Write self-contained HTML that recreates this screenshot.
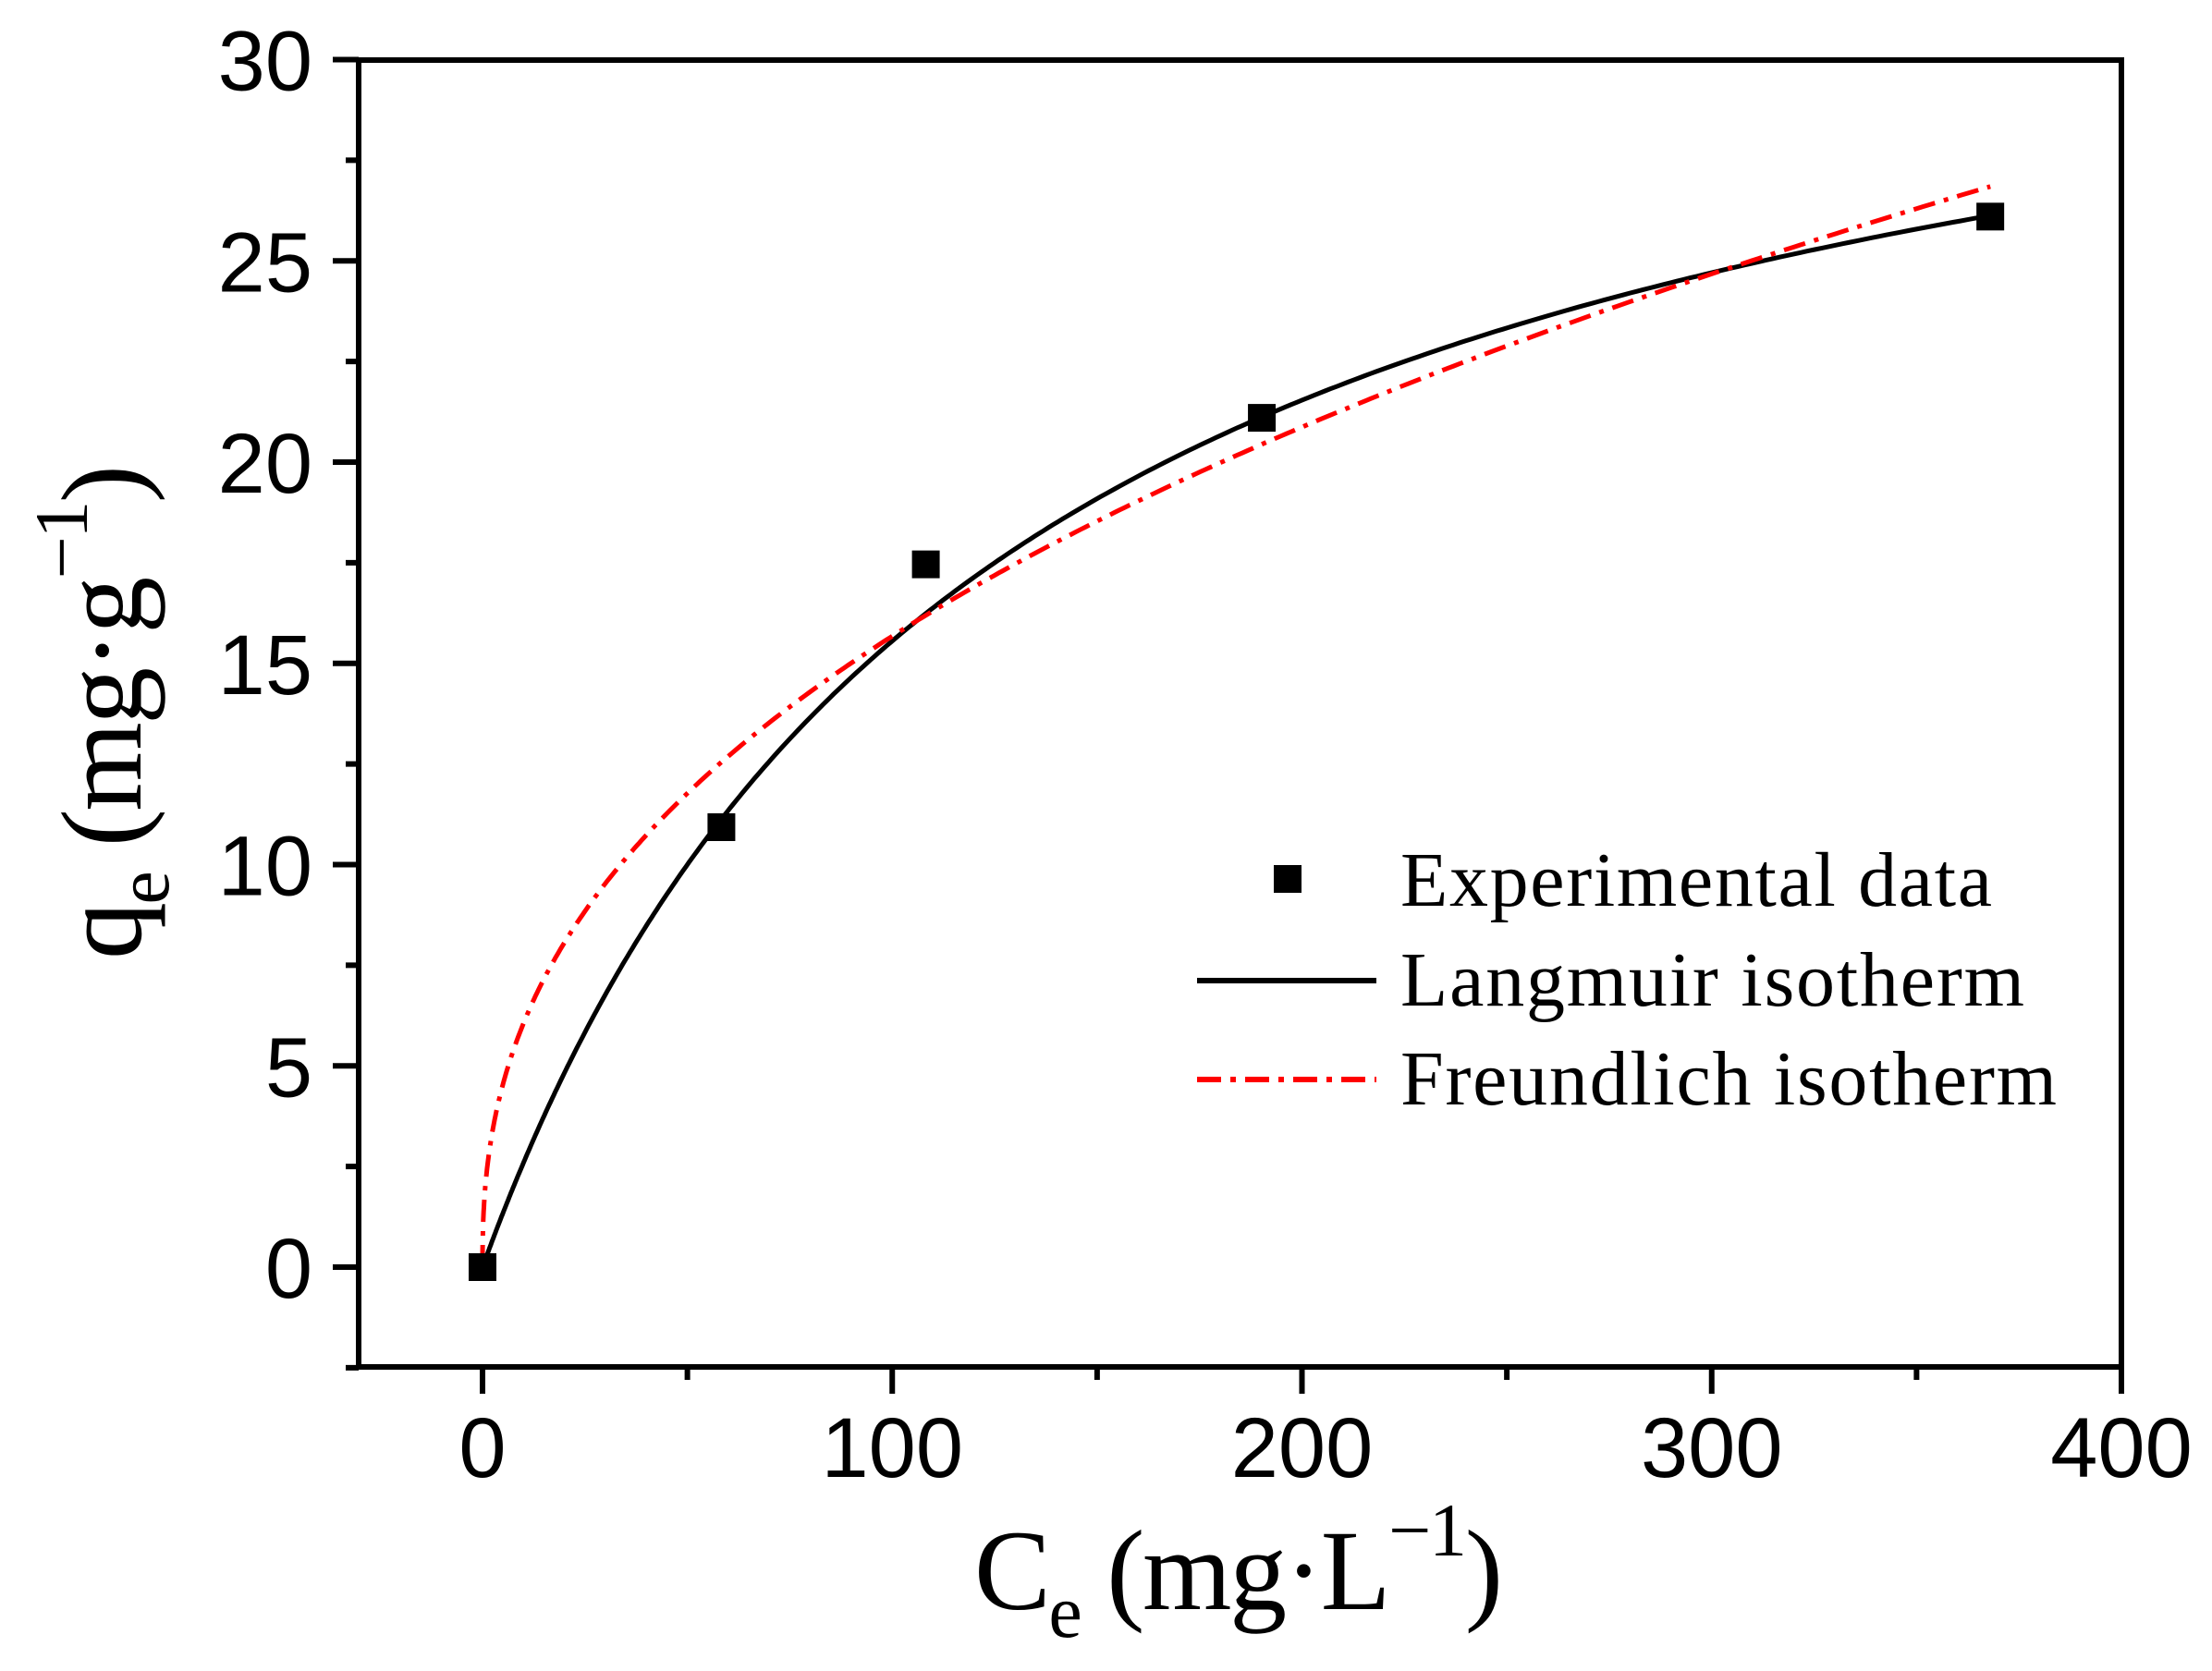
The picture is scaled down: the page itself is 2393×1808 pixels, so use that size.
<!DOCTYPE html>
<html><head><meta charset="utf-8"><style>html,body{margin:0;padding:0;background:#fff}svg{display:block}</style></head>
<body>
<svg id="s" width="2393" height="1808" xmlns="http://www.w3.org/2000/svg">
<rect width="2393" height="1808" fill="#fff"/>
<g id="curves"></g>
<g id="ax" stroke="#000" stroke-width="6" fill="none"></g>
<g id="lab" font-family="Liberation Sans, sans-serif" font-size="92" fill="#000"></g>
<g font-family="Liberation Serif, serif" fill="#000">
<text x="1054" y="1741" font-size="124" textLength="572">C<tspan font-size="82" dy="30">e</tspan><tspan dy="-30"> (mg·L</tspan><tspan font-size="82" dy="-58">−1</tspan><tspan dy="58">)</tspan></text>
<text transform="translate(152,1038) rotate(-90)" font-size="124" textLength="535">q<tspan font-size="82" dy="30">e</tspan><tspan dy="-30"> (mg·g</tspan><tspan font-size="82" dy="-58">−1</tspan><tspan dy="58">)</tspan></text>
<rect x="1378" y="936" width="30" height="30" fill="#000"/>
<line x1="1295" y1="1061" x2="1489" y2="1061" stroke="#000" stroke-width="6"/>
<line x1="1295" y1="1168" x2="1489" y2="1168" stroke="#f00" stroke-width="6" stroke-dasharray="26,10,6,10"/>
<text x="1515" y="980" font-size="84" textLength="640">Experimental data</text>
<text x="1515" y="1088" font-size="84" textLength="675">Langmuir isotherm</text>
<text x="1515" y="1195" font-size="84" textLength="710">Freundlich isotherm</text>
</g>
</svg>
<script>
var X=function(v){return 522+v*4.4325},Y=function(v){return 1371-v*43.55};
var NS="http://www.w3.org/2000/svg";
function el(p,t,a){var e=document.createElementNS(NS,t);for(var k in a)e.setAttribute(k,a[k]);p.appendChild(e);return e;}
var ax=document.getElementById('ax'),lab=document.getElementById('lab'),cv=document.getElementById('curves');
el(ax,'rect',{x:388,y:65,width:1907,height:1414});
for(var v=-2.5;v<=30.01;v+=2.5){var y=Y(v),maj=Math.abs(v%5)<0.01;el(ax,'line',{x1:388,y1:y,x2:maj?360:374,y2:y});
 if(maj){var t=el(lab,'text',{x:338,y:y+33,'text-anchor':'end'});t.textContent=Math.round(v);}}
for(var v=0;v<=400;v+=50){var x=X(v),maj=v%100==0;el(ax,'line',{x1:x,y1:1479,x2:x,y2:maj?1508:1493});
 if(maj){var t=el(lab,'text',{x:x,y:1598,'text-anchor':'middle'});t.textContent=v;}}
var L="",F="";
for(var i=0;i<=400;i++){var c=368*Math.pow(i/400,2);var q=35*0.008*c/(1+0.008*c);var f=2.34*Math.pow(c,0.413);
 L+=(i?"L":"M")+X(c).toFixed(1)+","+Y(q).toFixed(1);F+=(i?"L":"M")+X(c).toFixed(1)+","+Y(f).toFixed(1);}
el(cv,'path',{d:L,stroke:"#000","stroke-width":5,fill:"none"});
el(cv,'path',{d:F,stroke:"#f00","stroke-width":5,fill:"none","stroke-dasharray":"24,10,5,10"});
[[0,0],[58.3,10.93],[108.2,17.46],[190.2,21.1],[368,26.1]].forEach(function(p){el(cv,'rect',{x:X(p[0])-15,y:Y(p[1])-15,width:30,height:30,fill:"#000"});});
</script>
</body></html>
